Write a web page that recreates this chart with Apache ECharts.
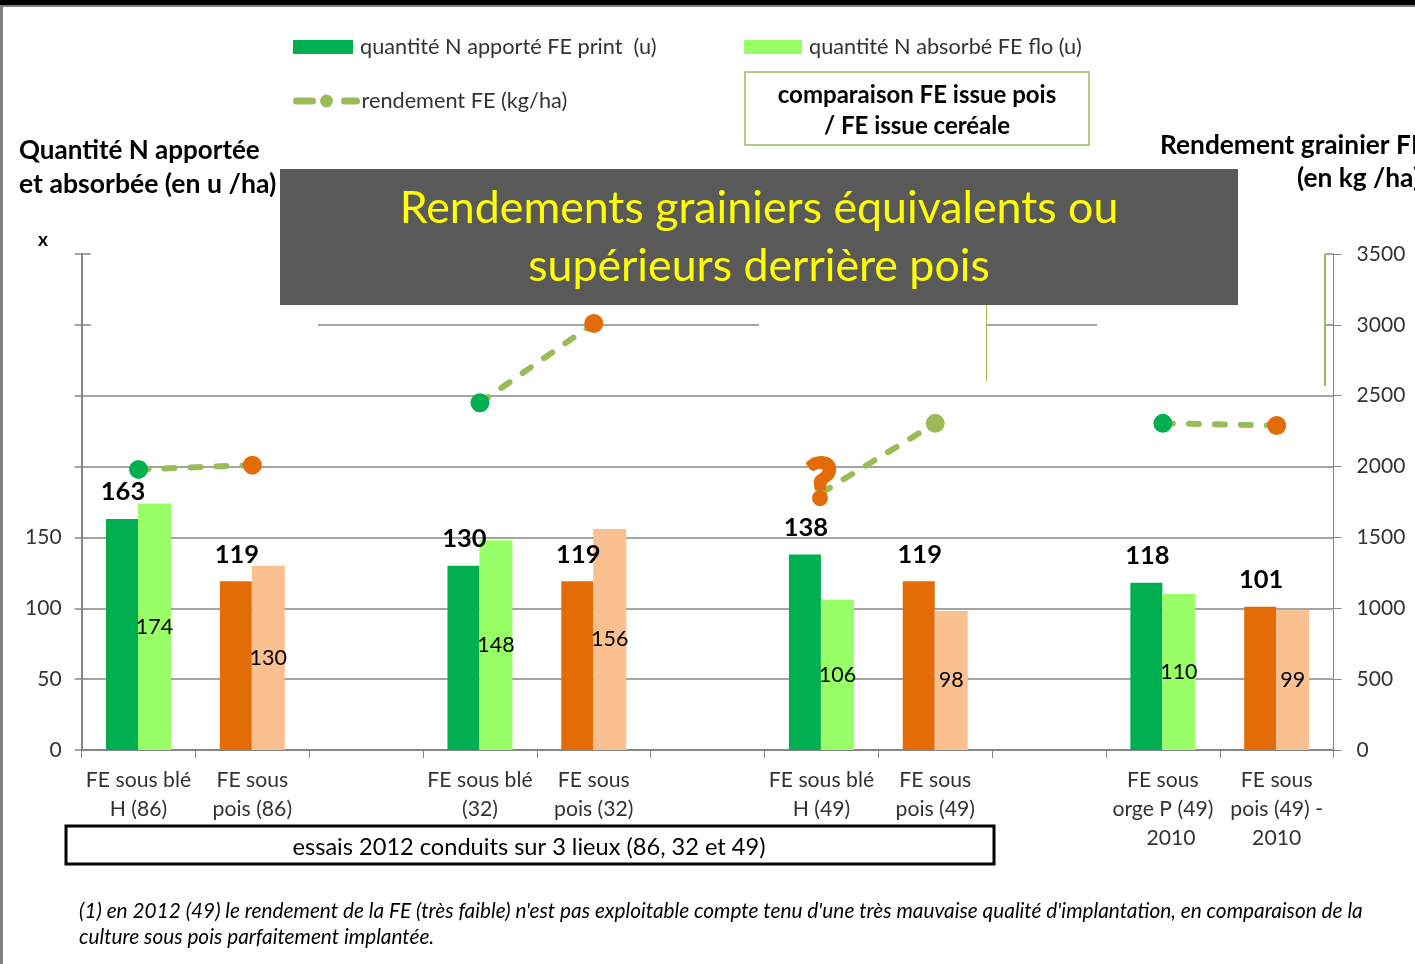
<!DOCTYPE html>
<html><head><meta charset="utf-8">
<style>html,body{margin:0;padding:0;background:#fff;overflow:hidden}#c{width:1415px;height:964px}</style>
<script src="https://cdn.jsdelivr.net/npm/echarts@6/dist/echarts.min.js"></script></head>
<body><div id="c"></div>
<script>
const categories = ['FE sous blé\nH (86)','FE sous\npois (86)','','FE sous blé\n(32)','FE sous\npois (32)','','FE sous blé\nH (49)','FE sous\npois (49)','','FE sous\norge P (49)\n   2010','FE sous\npois (49) -\n2010'];
const apporte = [163,119,null,130,119,null,138,119,null,118,101];
const absorbe = [174,130,null,148,156,null,106,98,null,110,99];
const rendement = [1980,2010,null,2450,3010,null,1815,2305,null,2305,2290];
const apporteColors = ['#00B050','#E36C09',null,'#00B050','#E36C09',null,'#00B050','#E36C09',null,'#00B050','#E36C09'];
const absorbeColors = ['#99FF66','#FAC090',null,'#99FF66','#FAC090',null,'#99FF66','#FAC090',null,'#99FF66','#FAC090'];
const markerColors = ['#00B050','#E36C09',null,'#00B050','#E36C09',null,'#9BBB59','#9BBB59',null,'#00B050','#E36C09'];
const leftTicksShown = [0,50,100,150];
const FONT = 'Lato';
const GREY = '#868686', OLIVE = '#9BBB59';
const nameA='quantité N apporté FE print  (u)', nameB='quantité N absorbé FE flo (u)', nameC='rendement FE (kg/ha)';
function txt(x,y,text,size,opt){return {type:'text',x,y,z:opt&&opt.z||50,style:{text,font:(opt&&opt.font||'')+' '+size+'px '+FONT,fill:opt&&opt.fill||'#000',textAlign:opt&&opt.align||'left',textVerticalAlign:'middle',textBaseline:'middle'}}}
function rect(x,y,w,h,fill,z,stroke,lw){return {type:'rect',z,shape:{x,y,width:w,height:h},style:{fill,stroke:stroke||null,lineWidth:lw||0}}}
function vline(x,y1,y2,color,lw,z){return {type:'line',z,shape:{x1:x,y1,x2:x,y2},style:{stroke:color,lineWidth:lw}}}
const legendText = {fontSize:21.7,color:'#333',fontFamily:FONT,padding:[0,0,0,2]};
const chart = echarts.init(document.getElementById('c'));
chart.setOption({
  animation:false,
  backgroundColor:'#fff',
  textStyle:{fontFamily:FONT},
  grid:{left:81.6,right:81.4,top:254,bottom:214,containLabel:false},
  legend:[
    {data:[{name:nameA,icon:'rect'}],left:293,top:36,padding:0,itemWidth:60,itemHeight:14,textStyle:legendText},
    {data:[{name:nameB,icon:'rect'}],left:744,top:36,padding:0,itemWidth:58,itemHeight:14,textStyle:legendText},
    {data:[nameC],left:293,top:90,padding:0,itemWidth:60,itemHeight:16,
      lineStyle:{width:7,type:[16,32],cap:'round',color:OLIVE},textStyle:Object.assign({},legendText,{padding:0})}
  ],
  xAxis:{type:'category',data:categories,
    axisLine:{lineStyle:{color:GREY,width:2}},
    axisTick:{show:true,length:8,alignWithLabel:false,lineStyle:{color:GREY,width:1}},
    axisLabel:{interval:0,fontSize:21.2,lineHeight:29,color:'#333',margin:16,fontFamily:FONT},splitLine:{show:false}},
  yAxis:[
    {type:'value',min:0,max:350,interval:50,
      axisLine:{show:true,lineStyle:{color:GREY,width:2}},
      axisTick:{show:true,length:7,lineStyle:{color:GREY,width:1.5}},
      axisLabel:{fontSize:21,color:'#333',margin:20,fontFamily:FONT,formatter:v=>leftTicksShown.includes(v)?String(v):''},
      splitLine:{show:true,lineStyle:{color:GREY,width:1.5}}},
    {type:'value',min:0,max:3500,interval:500,position:'right',
      axisLine:{show:true,lineStyle:{color:GREY,width:1}},
      axisTick:{show:true,length:8,lineStyle:{color:GREY,width:1}},
      axisLabel:{fontSize:21,color:'#333',margin:23,fontFamily:FONT,formatter:v=>String(v)},splitLine:{show:false}}
  ],
  series:[
    {name:nameA,type:'bar',barWidth:32,barGap:'0%',itemStyle:{color:'#00B050'},
      data:apporte.map((v,i)=>({value:v,itemStyle:{color:apporteColors[i]}})),
      label:{show:true,position:'top',distance:14,fontSize:25.5,fontWeight:'bold',color:'#000',fontFamily:FONT,offset:[1,0]}},
    {name:nameB,type:'bar',barWidth:33,itemStyle:{color:'#99FF66'},
      data:absorbe.map((v,i)=>({value:v,itemStyle:{color:absorbeColors[i]}})),
      label:{show:true,position:'inside',fontSize:21.5,color:'#000',fontFamily:FONT}},
    {name:nameC,type:'line',yAxisIndex:1,connectNulls:false,symbol:'circle',symbolSize:19,
      itemStyle:{color:OLIVE},
      lineStyle:{color:OLIVE,width:6,type:[10,16],cap:'round'},
      data:rendement.map((v,i)=>{
        const d={value:v,itemStyle:{color:markerColors[i]}};
        if(i===6){d.symbolSize=12;d.label={show:true,formatter:'?',position:'inside',fontSize:60,fontWeight:900,color:'#E36C09',textBorderColor:'#E36C09',textBorderWidth:6,offset:[0,-9],fontFamily:FONT}}
        return d;})}
  ],
  graphic:[
    rect(0,0,1415,5,'#000',60), rect(0,5,1415,2,'#808080',60), rect(0,5,3,959,'#808080',60),
    rect(91,250,227,80,'#fff',1), rect(759,250,227,80,'#fff',1), rect(1097,250,228,80,'#fff',1),
    vline(986.5,305,381,OLIVE,1,1), rect(1324,254,2,132,OLIVE,1),
    rect(280,169,958,136,'#595959',40),
    txt(759,209,'Rendements grainiers équivalents ou',44.7,{fill:'#FFFF00',align:'center'}),
    txt(759,267,'supérieurs derrière pois',44.7,{fill:'#FFFF00',align:'center'}),
    rect(745,72,344,73,'#fff',40,OLIVE,1.5),
    txt(917,95,'comparaison FE issue pois',24,{font:'bold',align:'center'}),
    txt(917,126,'/ FE issue ceréale',24,{font:'bold',align:'center'}),
    txt(19,151,'Quantité N apportée',26,{font:'bold'}),
    txt(19,184,'et absorbée (en u /ha)',26.6,{font:'bold'}),
    txt(38,240,'x',19,{font:'bold'}),
    txt(1160,146,'Rendement grainier FE',26.3,{font:'bold'}),
    txt(1297,179,'(en kg /ha)',26.3,{font:'bold'}),
    rect(66,826,928,38,'#fff',40,'#000',3),
    txt(529,847,'essais 2012 conduits sur 3 lieux (86, 32 et 49)',23.6,{align:'center'}),
    txt(79,911,"(1) en 2012 (49) le rendement de la FE (très faible) n'est pas exploitable compte tenu d'une très mauvaise qualité d'implantation, en comparaison de la",20.8,{font:'italic'}),
    txt(79,937,'culture sous pois parfaitement implantée.',20.8,{font:'italic'})
  ]
});
</script></body></html>
